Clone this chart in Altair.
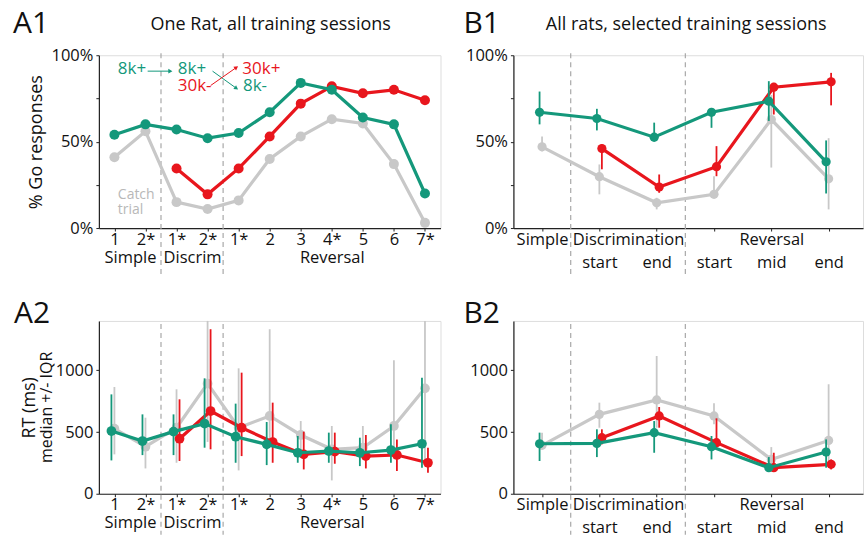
import altair as alt
import pandas as pd

FONT = "Open Sans"
GREEN = "#14987b"
RED = "#e8161d"
GRAY = "#c8c8c8"
AXIS_COLOR = "#222222"
DASH_COLOR = "#a8a8a8"
TEXT_COLOR = "#111111"

# ---------------- Panel A: one rat, all training sessions ----------------
A_positions = list(range(11))
A_tick_labels = ["1", "2*", "1*", "2*", "1*", "2", "3", "4*", "5", "6", "7*"]
A_group_labels = ["Simple", "Discrim", "Reversal"]
A_group_positions = [0.5, 2.5, 7]
A_boundaries = [1.5, 3.5]

A1_green = [54, 60, 57, 52, 55, 67, 84, 80, 64, 60, 20]
A1_red = [None, None, 34.5, 19.5, 34.5, 53, 72, 82, 78, 80, 74]
A1_gray = [41, 56, 15, 11, 16, 40, 53, 63, 60.5, 37, 3]

A2_green = [508, 427, 503, 568, 462, 400, 332, 346, 332, 354, 405]
A2_green_lo = [270, 313, 313, 373, 251, 232, 251, 251, 224, 251, 211]
A2_green_hi = [805, 643, 643, 935, 730, 581, 468, 495, 454, 562, 940]
A2_red = [None, None, 446, 670, 535, 419, 319, 341, 305, 314, 251]
A2_red_lo = [None, None, 265, 360, 305, 251, 197, 243, 205, 184, 170]
A2_red_hi = [None, None, 765, 1333, 981, 738, 503, 495, 476, 440, 373]
A2_gray = [527, 381, 535, 892, 535, 630, 476, 360, 373, 549, 854]
A2_gray_lo = [319, 205, 251, 420, 189, 373, 346, 108, 292, 373, 243]
A2_gray_hi = [865, 616, 846, 1400, 1016, 1333, 589, 549, 549, 1081, 1400]

# annotation in A1 (data coordinates)
ann_text = ["8k+", "8k+", "30k-", "30k+", "8k-"]
ann_x = [0.11, 2.04, 2.04, 4.12, 4.14]
ann_y = [89.2, 89.2, 79.2, 89.2, 79.2]
ann_color = [GREEN, GREEN, RED, RED, GREEN]
arrow_x = [1.07, 3.16, 3.10]
arrow_x2 = [1.78, 3.91, 3.91]
arrow_y = [90.8, 90.8, 82.5]
arrow_y2 = [90.8, 81.1, 92.7]
arrow_color = [GREEN, GREEN, RED]
arrow_angle = [90, 125, 55]
catch_text = ["Catch", "trial"]
catch_x = [0.11]
catch_y = [16.8]

# ---------------- Panel B: all rats, selected sessions ----------------
B_positions = [0, 1, 2, 3, 4, 5]
B_tick_labels = ["", "start", "end", "start", "mid", "end"]
B_group_labels = ["Simple", "Discrimination", "Reversal"]
B_group_positions = [0, 1.5, 4]
B_boundaries = [0.5, 2.5]

B1_green = [67, 63.4, 52.6, 67, 73.4, 38.3]
B1_green_lo = [60, 56.5, 50, 58, 62, 20]
B1_green_hi = [79, 69, 61, 69.5, 85, 50.7]
B1_red = [None, 46, 23.7, 35.5, 81.5, 84.6]
B1_red_lo = [None, 34, 20.4, 30, 65.7, 71]
B1_red_hi = [None, 48.4, 31, 47.4, 84, 89.8]
B1_gray = [47, 29.7, 14.6, 19.5, 62.8, 28.5]
B1_gray_lo = [44.5, 19.5, 10.8, 17.5, 35, 10.8]
B1_gray_hi = [53, 36.8, 17.5, 30, 77, 52]

B2_green = [405, 408, 495, 381, 211, 338]
B2_green_lo = [265, 297, 332, 278, 184, 211]
B2_green_hi = [495, 522, 589, 468, 297, 440]
B2_red = [None, 454, 630, 414, 211, 238]
B2_red_lo = [None, 400, 535, 373, 184, 197]
B2_red_hi = [None, 522, 703, 611, 332, 278]
B2_gray = [392, 643, 760, 630, 278, 432]
B2_gray_lo = [373, 535, 535, 562, 211, 265]
B2_gray_hi = [495, 738, 1116, 733, 378, 887]


def build_label_map(tick_pos, tick_labels, group_pos, group_labels, group_first):
    m = {}
    for p, t in zip(tick_pos, tick_labels):
        m.setdefault(float(p), ["", ""])
        m[float(p)][1 if group_first else 0] = t
    for p, g in zip(group_pos, group_labels):
        m.setdefault(float(p), ["", ""])
        m[float(p)][0 if group_first else 1] = g
    return m


def label_expr(m):
    expr = "''"
    for v in sorted(m.keys(), reverse=True):
        lines = ",".join("'" + s + "'" for s in m[v])
        expr = f"datum.value === {v} ? [{lines}] : ({expr})"
    return expr


def x_axis(m, line_height):
    return alt.Axis(
        values=sorted(m.keys()), labelExpr=label_expr(m), title=None, grid=False,
        domainColor=AXIS_COLOR, domainWidth=1.2, tickColor=AXIS_COLOR, tickSize=3,
        tickOpacity={"condition": {"test": "datum.value % 1 !== 0", "value": 0}, "value": 1},
        labelFont=FONT, labelFontSize=16.5, labelColor=TEXT_COLOR, labelPadding=0,
        labelLineHeight=line_height, labelOverlap=False, labelFlush=False, labelAngle=0,
        labelBound=False,
    )


def y_axis(values, expr, title=None, title_x=-57):
    kw = dict(
        values=values, labelExpr=expr, grid=False, domainColor=AXIS_COLOR, domainWidth=1.2,
        tickColor=AXIS_COLOR, tickSize=3, labelPadding=3, labelFont=FONT, labelFontSize=16.5,
        labelColor=TEXT_COLOR, labelOverlap=False,
    )
    if title:
        kw.update(title=title, titleX=title_x, titleY=86.5, titleAngle=270, titleAlign="center",
                  titleBaseline="alphabetic", titleFont=FONT, titleFontSize=18,
                  titleFontWeight="normal", titleColor=TEXT_COLOR)
    else:
        kw.update(title=None)
    return alt.Axis(**kw)


def series_df(x, y, lo=None, hi=None):
    d = {"x": x, "y": y}
    if lo is not None:
        d["lo"] = lo
        d["hi"] = hi
    return pd.DataFrame(d).dropna(subset=["y"])


def series_layers(df, color, X, Y, Ylo, xoff, size, err):
    base = alt.Chart(df)
    out = []
    if err:
        out.append(base.mark_rule(color=color, strokeWidth=1.8, xOffset=xoff)
                   .encode(x=X, y=Ylo, y2=alt.Y2("hi:Q")))
    out.append(base.mark_line(color=color, strokeWidth=3.2, xOffset=xoff).encode(x=X, y=Y))
    out.append(base.mark_circle(color=color, size=size, opacity=1, xOffset=xoff).encode(x=X, y=Y))
    return out


def text_at(txt, x, y, size, align="left", angle=0, color=TEXT_COLOR):
    return alt.Chart(pd.DataFrame({"t": [txt]})).mark_text(
        font=FONT, fontSize=size, align=align, baseline="alphabetic", color=color, angle=angle
    ).encode(x=alt.value(x), y=alt.value(y), text="t:N")


def dashed(bounds, X, top, bottom):
    return alt.Chart(pd.DataFrame({"x": bounds})).mark_rule(
        color=DASH_COLOR, strokeWidth=1.2, strokeDash=[5, 4]
    ).encode(x=X, y=alt.value(top), y2=alt.value(bottom))


def make_panel(xs, series, xscale, xaxis, yscale, yaxis, bounds, top, bottom, width, height,
               err, offsets, size, extras):
    X = alt.X("x:Q", scale=xscale, axis=xaxis)
    Y = alt.Y("y:Q", scale=yscale, axis=yaxis)
    Ylo = alt.Y("lo:Q", scale=yscale, axis=yaxis)
    layers = [dashed(bounds, X, top, bottom)]
    if callable(extras.get("pre")):
        layers += extras["pre"](X, Y)
    for (vals, color), off in zip(series, offsets):
        df = series_df(xs, *vals)
        layers += series_layers(df, color, X, Y, Ylo, off, size, err)
    layers += extras.get("post", [])
    return alt.layer(*layers).properties(width=width, height=height)


A_map = build_label_map(A_positions, A_tick_labels, A_group_positions, A_group_labels, False)
B_map = build_label_map(B_positions, B_tick_labels, B_group_positions, B_group_labels, True)

A_xscale = alt.Scale(domain=[-0.5, 10.5], nice=False, zero=False)
B_xscale = alt.Scale(domain=[-0.5, 5.6], nice=False, zero=False)
P_yscale = alt.Scale(domain=[0, 100], nice=False, zero=False)
RT_yscale = alt.Scale(domain=[0, 1400], nice=False, zero=False)

pct_expr = "datum.value % 50 === 0 ? datum.value + '%' : ''"
rt_expr = "datum.value + ''"

A_W, B_W, H = 342, 350, 173


def a1_annotations(X, Y):
    ann = pd.DataFrame({"x": ann_x, "y": ann_y, "t": ann_text, "c": ann_color})
    arr = pd.DataFrame({"x": arrow_x, "x2": arrow_x2, "y": arrow_y, "y2": arrow_y2,
                        "c": arrow_color, "a": arrow_angle})
    heads = pd.DataFrame({"x": arrow_x2, "y": arrow_y2, "c": arrow_color, "a": arrow_angle})
    catch = pd.DataFrame({"x": catch_x, "y": catch_y, "t": [catch_text]})
    return [
        alt.Chart(arr).mark_rule(strokeWidth=1).encode(
            x=X, x2="x2:Q", y=Y, y2="y2:Q", color=alt.Color("c:N", scale=None)),
        alt.Chart(heads).mark_point(shape="triangle", filled=True, size=22, opacity=1).encode(
            x=X, y=Y, color=alt.Color("c:N", scale=None), angle=alt.Angle("a:Q", scale=None)),
        alt.Chart(ann).mark_text(font=FONT, fontSize=17, align="left", baseline="alphabetic").encode(
            x=X, y=Y, text="t:N", color=alt.Color("c:N", scale=None)),
        alt.Chart(catch).mark_text(font=FONT, fontSize=14, align="left", baseline="alphabetic",
                                   color="#b8b8b8", lineHeight=15).encode(x=X, y=Y, text="t"),
    ]


A1 = make_panel(
    A_positions,
    [((A1_gray,), GRAY), ((A1_red,), RED), ((A1_green,), GREEN)],
    A_xscale, x_axis(A_map, 18), P_yscale,
    y_axis([0, 25, 50, 75, 100], pct_expr, "% Go responses", -57),
    A_boundaries, -2, 219, A_W, H, False, [0, 0, 0], 100,
    {"pre": a1_annotations,
     "post": [text_at("A1", -86, -22, 30), text_at("One Rat, all training sessions", 172, -25, 18, "center")]},
)

B1 = make_panel(
    B_positions,
    [((B1_gray, B1_gray_lo, B1_gray_hi), GRAY), ((B1_red, B1_red_lo, B1_red_hi), RED),
     ((B1_green, B1_green_lo, B1_green_hi), GREEN)],
    B_xscale, x_axis(B_map, 24), P_yscale,
    y_axis([0, 25, 50, 75, 100], pct_expr),
    B_boundaries, -2, 219, B_W, H, True, [0, 2.5, -2.5], 85,
    {"post": [text_at("B1", -50, -22, 30),
              text_at("All rats, selected training sessions", 173, -25, 18, "center")]},
)

A2 = make_panel(
    A_positions,
    [((A2_gray, A2_gray_lo, A2_gray_hi), GRAY), ((A2_red, A2_red_lo, A2_red_hi), RED),
     ((A2_green, A2_green_lo, A2_green_hi), GREEN)],
    A_xscale, x_axis(A_map, 18), RT_yscale,
    y_axis([0, 500, 1000], rt_expr, "RT (ms)", -64),
    A_boundaries, 3, 214, A_W, H, True, [0, 3, -3], 95,
    {"post": [text_at("A2", -85, 2, 30),
              text_at("median +/- IQR", -47, 86.5, 16, "center", 270)]},
)

B2 = make_panel(
    B_positions,
    [((B2_gray, B2_gray_lo, B2_gray_hi), GRAY), ((B2_red, B2_red_lo, B2_red_hi), RED),
     ((B2_green, B2_green_lo, B2_green_hi), GREEN)],
    B_xscale, x_axis(B_map, 23), RT_yscale,
    y_axis([0, 500, 1000], rt_expr),
    B_boundaries, 3, 214, B_W, H, True, [0, 2.5, -2.5], 85,
    {"post": [text_at("B2", -50, 2, 30)]},
)

chart = alt.concat(
    A1, B1, A2, B2, columns=2, spacing={"row": 93, "column": 73}, bounds="flush", align="each"
).properties(
    padding={"left": 12, "top": 8, "right": 0, "bottom": 0}, background="white"
).configure_view(stroke=None).configure(font=FONT)

chart.save("out.html", embed_options={"renderer": "svg", "actions": False})
